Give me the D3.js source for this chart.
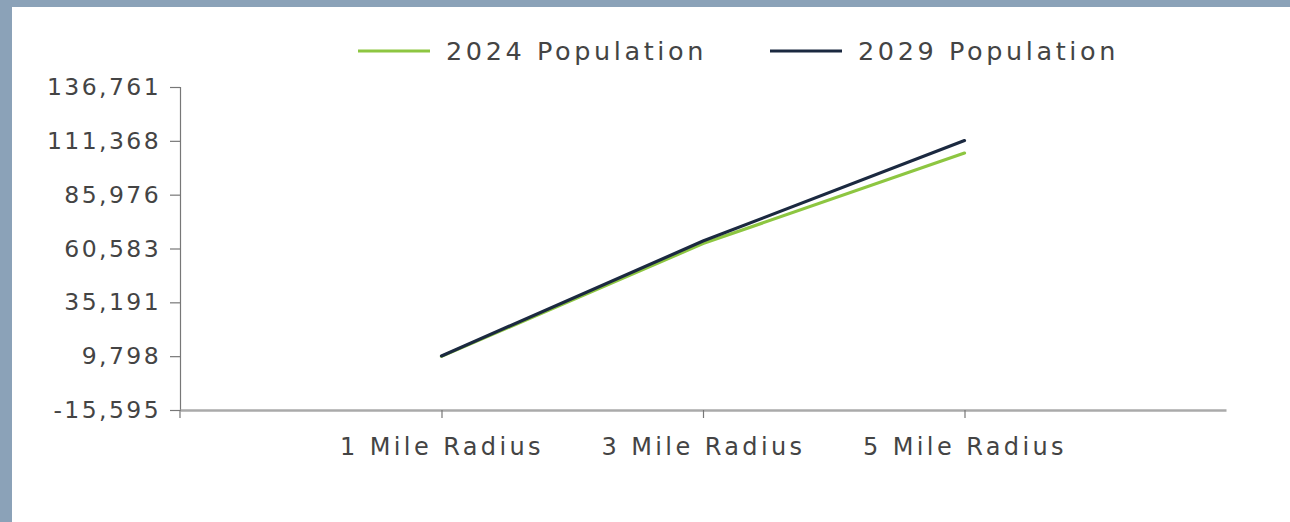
<!DOCTYPE html>
<html>
<head>
<meta charset="utf-8">
<script src="https://cdn.jsdelivr.net/npm/d3@7"></script>
<style>
  html, body { margin: 0; padding: 0; background: #8ba2b8; }
  svg { display: block; }
  text { font-family: "DejaVu Sans", sans-serif; fill: #444; }
</style>
</head>
<body>
<svg id="chart" width="1290" height="522"></svg>
<script>
const categories = ["1 Mile Radius", "3 Mile Radius", "5 Mile Radius"];
const pop2024 = [9700, 62900, 105600];
const pop2029 = [9900, 64100, 111500];
const yTicks = [-15595, 9798, 35191, 60583, 85976, 111368, 136761];
const seriesNames = ["2024 Population", "2029 Population"];
const seriesColors = ["#8dc641", "#1b2940"];

const svg = d3.select("#chart");
svg.append("rect").attr("x", 12).attr("y", 7).attr("width", 1278).attr("height", 515).attr("fill", "#ffffff");

const x = d3.scalePoint().domain(categories).range([180, 1226]).padding(1);
const y = d3.scaleLinear().domain([yTicks[0], yTicks[yTicks.length - 1]]).range([410, 87]);
const fmt = d => d3.format(",")(d).replace("\u2212", "-");

// Y axis
const yAxis = svg.append("g").attr("transform", "translate(180,0)")
  .call(d3.axisLeft(y).tickValues(yTicks).tickSize(10).tickPadding(9).tickFormat(fmt));
yAxis.select(".domain").attr("stroke", "#777").attr("stroke-width", 1.2);
yAxis.selectAll(".tick line").attr("stroke", "#777").attr("stroke-width", 1.2);
yAxis.selectAll("text").style("font-size", "23.5px").style("letter-spacing", "2.4px").attr("fill", "#444");

// X axis
const xAxis = svg.append("g").attr("transform", "translate(0,410)")
  .call(d3.axisBottom(x).tickSize(8).tickSizeOuter(0).tickPadding(20));
xAxis.select(".domain").attr("stroke", "#aaa").attr("stroke-width", 2.5);
xAxis.selectAll(".tick line").attr("stroke", "#777").attr("stroke-width", 1.2);
xAxis.selectAll("text").style("font-size", "24px").style("letter-spacing", "3.4px").attr("fill", "#444");
svg.append("line").attr("x1", 180).attr("x2", 180).attr("y1", 410).attr("y2", 418).attr("stroke", "#777").attr("stroke-width", 1.2);

// Lines
const line = d3.line().x((d, i) => x(categories[i])).y(d => y(d));
[pop2024, pop2029].forEach((s, i) => {
  svg.append("path").datum(s).attr("d", line)
    .attr("fill", "none").attr("stroke", seriesColors[i]).attr("stroke-width", 3.2)
    .attr("stroke-linecap", "round");
});

// Legend
const legendX = [358, 770];
seriesNames.forEach((name, i) => {
  const g = svg.append("g").attr("transform", `translate(${legendX[i]},51)`);
  g.append("line").attr("x1", 0).attr("x2", 72).attr("y1", 0).attr("y2", 0)
    .attr("stroke", seriesColors[i]).attr("stroke-width", 3.2);
  g.append("text").attr("x", 88).attr("y", 0).attr("dy", "0.35em")
    .style("font-size", "25.5px").style("letter-spacing", "3.6px").text(name);
});
</script>
</body>
</html>
